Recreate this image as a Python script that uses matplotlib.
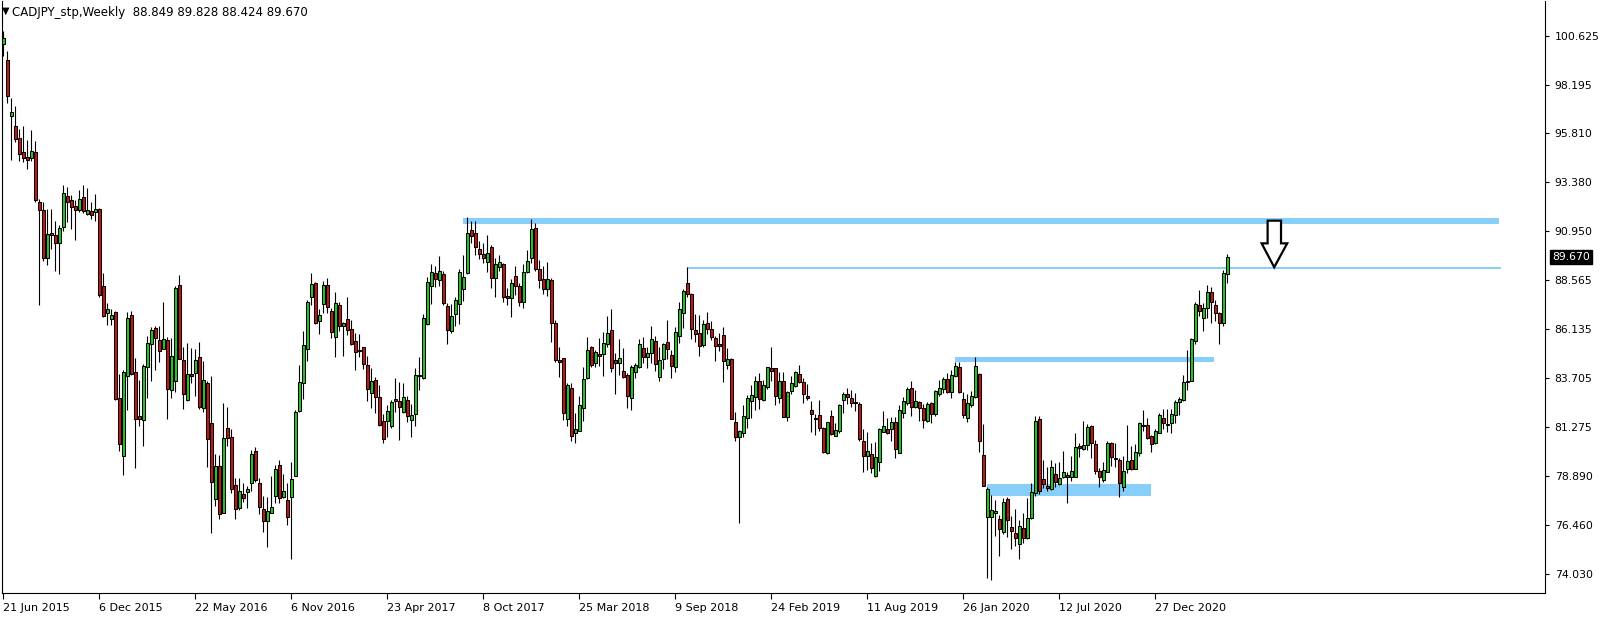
import matplotlib
matplotlib.use("Agg")
import matplotlib.pyplot as plt
from matplotlib.patches import Polygon, Rectangle
import numpy as np

# CADJPY weekly, 21 Jun 2015 .. early May 2021 (307 bars)
opens = [100.23, 99.40, 96.66, 96.15, 95.55, 94.87, 94.62, 94.58, 94.87, 92.42,
         92.03, 89.62, 90.88, 90.76, 90.37, 91.18, 92.68, 92.49, 92.20, 92.03,
         92.63, 91.83, 91.95, 91.90, 92.08, 88.24, 86.93, 86.64, 86.98, 82.71,
         79.87, 83.83, 86.81, 84.00, 81.83, 81.62, 84.24, 85.40, 86.16, 85.57,
         85.12, 85.59, 83.12, 83.56, 88.30, 84.60, 82.62, 83.89, 83.94, 84.73,
         82.21, 83.48, 81.47, 77.71, 79.36, 77.06, 81.22, 80.78, 78.42, 77.30,
         77.98, 78.06, 78.51, 80.10, 78.51, 77.22, 76.65, 77.02, 77.90, 79.41,
         77.85, 77.68, 77.81, 78.88, 82.10, 83.45, 85.12, 87.73, 88.38, 86.54,
         87.35, 88.30, 87.02, 85.72, 87.31, 86.29, 86.62, 86.11, 85.54, 85.09,
         85.22, 84.35, 82.98, 83.61, 82.77, 81.58, 81.60, 81.35, 82.66, 82.57,
         82.05, 82.62, 81.63, 81.91, 83.87, 83.73, 86.36, 88.27, 88.91, 88.55,
         88.83, 87.26, 86.05, 86.85, 87.35, 88.09, 88.88, 91.02, 90.85, 90.06,
         89.83, 89.45, 90.16, 88.66, 89.21, 89.32, 87.76, 87.68, 88.75, 88.25,
         87.48, 88.93, 89.62, 91.10, 89.08, 88.58, 88.10, 88.55, 86.41, 84.60,
         84.68, 81.68, 83.20, 80.98, 81.11, 82.24, 83.69, 85.22, 84.43, 84.89,
         84.88, 85.37, 86.08, 84.60, 84.43, 84.05, 83.86, 82.70, 83.99, 84.27,
         85.17, 84.73, 84.93, 85.54, 83.77, 84.63, 85.47, 84.84, 84.27, 85.80,
         86.90, 88.38, 87.86, 86.08, 85.91, 85.34, 86.41, 86.13, 85.67, 85.37,
         85.83, 84.35, 84.63, 81.52, 80.81, 81.01, 81.75, 82.59, 82.79, 83.58,
         82.62, 83.28, 84.19, 84.19, 82.70, 83.56, 81.80, 83.08, 83.33, 83.89,
         83.50, 82.82, 82.13, 81.75, 81.88, 81.22, 80.02, 81.85, 80.86, 81.11,
         82.62, 82.92, 82.70, 82.54, 82.43, 80.60, 79.87, 79.94, 78.89, 79.54,
         81.03, 81.19, 81.17, 81.52, 79.99, 82.00, 82.46, 83.20, 82.29, 82.54,
         82.21, 81.60, 82.46, 81.91, 82.90, 83.15, 83.64, 83.00, 83.82, 84.24,
         82.66, 81.72, 82.38, 82.75, 83.89, 79.91, 76.86, 76.86, 77.03, 76.75,
         76.09, 77.72, 76.37, 76.04, 75.49, 76.28, 75.79, 76.81, 78.05, 81.67,
         78.72, 78.38, 78.21, 78.97, 78.47, 78.80, 78.92, 78.84, 78.80, 80.35,
         80.19, 80.40, 81.34, 80.43, 79.12, 78.67, 79.08, 80.52, 79.78, 79.66,
         78.34, 79.20, 79.66, 79.23, 79.99, 81.39, 81.39, 80.85, 80.48, 80.98,
         81.72, 81.44, 81.50, 81.88, 82.51, 82.62, 83.56, 83.58, 85.55, 87.32,
         86.66, 87.18, 87.96, 87.32, 86.90, 86.41, 88.849]
highs = [100.85, 99.86, 97.56, 97.14, 96.03, 96.15, 95.47, 95.98, 95.43, 92.54,
         92.41, 92.07, 92.07, 91.44, 91.27, 93.26, 93.14, 92.75, 92.49, 93.00,
         93.22, 93.09, 92.41, 92.80, 92.12, 88.89, 87.39, 87.13, 87.01, 83.90,
         84.12, 86.96, 87.01, 84.72, 83.61, 84.38, 85.77, 86.25, 86.28, 86.28,
         87.48, 85.72, 85.67, 88.25, 88.80, 85.22, 85.42, 85.17, 85.12, 85.47,
         84.55, 83.56, 83.81, 79.95, 79.90, 82.46, 82.26, 81.19, 78.75, 78.75,
         78.51, 78.37, 80.15, 80.32, 78.75, 77.88, 77.85, 78.87, 79.41, 79.66,
         78.97, 78.54, 79.58, 82.13, 84.35, 86.05, 87.56, 88.88, 88.47, 87.12,
         88.50, 88.63, 87.15, 87.94, 87.48, 86.49, 87.69, 86.57, 85.91, 85.87,
         85.26, 84.80, 84.19, 83.74, 83.36, 81.93, 82.38, 82.62, 83.69, 83.49,
         83.45, 82.82, 82.42, 84.19, 84.76, 86.87, 88.68, 89.32, 89.24, 89.73,
         88.99, 87.40, 87.36, 87.73, 89.09, 89.78, 91.64, 91.46, 91.46, 90.48,
         90.36, 90.77, 90.28, 89.62, 89.78, 89.41, 88.14, 88.60, 89.24, 88.38,
         89.32, 90.03, 91.56, 91.35, 89.54, 89.24, 89.45, 88.63, 86.57, 85.26,
         84.71, 83.48, 83.48, 81.96, 82.82, 84.27, 85.75, 85.29, 85.09, 85.67,
         86.00, 86.77, 87.10, 84.93, 85.62, 85.17, 83.97, 84.35, 84.47, 85.63,
         85.72, 85.22, 86.28, 85.80, 85.26, 85.42, 86.57, 85.09, 86.21, 87.48,
         88.09, 89.21, 87.89, 86.85, 86.82, 86.57, 86.95, 86.54, 85.78, 85.91,
         86.21, 85.21, 84.68, 82.01, 81.14, 82.37, 82.87, 83.36, 83.81, 83.94,
         83.61, 84.27, 85.26, 84.19, 84.02, 84.02, 83.07, 83.82, 84.06, 84.35,
         83.73, 83.40, 82.57, 81.93, 82.62, 81.31, 81.55, 82.13, 81.47, 82.41,
         83.00, 83.23, 83.12, 82.95, 82.54, 81.17, 81.03, 80.48, 80.56, 81.22,
         82.08, 81.75, 81.77, 81.80, 82.38, 82.79, 83.28, 83.56, 83.12, 82.59,
         82.43, 82.54, 82.54, 83.12, 83.61, 83.78, 83.94, 84.10, 84.52, 84.48,
         83.03, 82.90, 83.08, 84.76, 83.94, 81.42, 78.34, 77.93, 77.68, 76.94,
         77.77, 77.85, 76.91, 77.24, 76.70, 77.06, 77.80, 78.51, 81.85, 81.85,
         79.66, 79.33, 79.66, 79.51, 79.58, 80.11, 79.08, 79.86, 80.98, 80.48,
         81.59, 81.44, 81.39, 80.65, 79.28, 79.55, 80.61, 80.57, 80.52, 79.74,
         79.86, 81.39, 80.35, 80.45, 81.55, 82.13, 81.75, 80.90, 81.17, 81.97,
         82.16, 82.16, 82.16, 82.62, 82.76, 83.86, 85.09, 85.70, 87.48, 88.06,
         87.40, 88.30, 88.22, 87.56, 86.95, 89.04, 89.828]
lows = [99.60, 97.31, 94.50, 95.35, 94.45, 94.38, 94.04, 94.45, 92.41, 87.30,
        89.48, 89.31, 90.08, 88.97, 88.83, 90.98, 91.40, 91.06, 90.54, 91.90,
        91.86, 91.78, 91.56, 91.47, 87.70, 86.73, 86.33, 86.33, 82.64, 80.12,
        78.90, 82.13, 83.87, 79.24, 81.32, 80.33, 82.73, 83.58, 84.12, 84.51,
        85.12, 81.67, 82.70, 83.03, 84.63, 82.19, 82.59, 83.45, 82.84, 82.16,
        82.05, 79.30, 76.07, 77.39, 76.73, 77.02, 80.37, 78.05, 76.73, 77.19,
        77.57, 77.30, 78.14, 78.56, 76.97, 76.12, 75.35, 77.02, 77.52, 77.52,
        77.76, 76.45, 74.75, 78.88, 82.01, 82.67, 84.56, 87.31, 86.38, 85.88,
        86.94, 86.90, 85.67, 84.76, 86.05, 84.81, 85.83, 85.34, 84.10, 84.76,
        84.14, 82.59, 82.21, 81.96, 81.34, 80.51, 80.81, 81.22, 82.05, 80.65,
        81.96, 81.55, 80.81, 81.35, 83.12, 83.66, 86.33, 87.36, 88.22, 88.27,
        87.31, 85.39, 85.95, 86.28, 86.38, 87.53, 88.85, 90.39, 89.78, 89.57,
        89.37, 88.96, 88.14, 87.73, 88.99, 87.48, 87.31, 86.74, 87.81, 87.26,
        87.18, 88.88, 89.37, 88.99, 88.17, 87.86, 87.78, 85.50, 84.48, 83.77,
        81.63, 81.34, 80.61, 80.51, 81.09, 81.60, 83.64, 84.27, 84.24, 84.32,
        83.81, 85.26, 84.02, 82.92, 83.86, 83.69, 82.24, 82.13, 83.72, 84.19,
        84.47, 84.22, 84.43, 84.07, 83.56, 84.15, 84.65, 83.72, 84.02, 85.45,
        86.16, 87.69, 85.63, 85.50, 84.80, 85.26, 85.88, 85.59, 84.55, 85.06,
        83.49, 84.15, 81.68, 80.61, 76.56, 80.81, 81.26, 81.72, 82.13, 82.16,
        82.57, 83.17, 83.58, 82.38, 82.49, 81.80, 81.60, 82.90, 83.28, 83.45,
        82.49, 82.62, 81.06, 80.89, 81.09, 80.02, 79.96, 80.89, 80.85, 80.98,
        82.00, 82.43, 82.29, 82.08, 80.61, 79.05, 79.17, 79.03, 78.84, 79.12,
        81.03, 80.94, 80.61, 79.77, 79.99, 81.72, 82.38, 81.85, 82.21, 81.60,
        81.26, 81.55, 81.47, 81.85, 82.84, 82.95, 82.95, 82.74, 83.78, 82.95,
        81.75, 81.55, 82.26, 82.70, 80.07, 78.39, 73.81, 73.73, 75.92, 74.93,
        75.99, 75.87, 75.26, 75.43, 74.75, 75.54, 75.76, 76.73, 77.90, 77.98,
        78.26, 78.15, 78.18, 78.34, 78.42, 78.75, 77.55, 78.64, 78.80, 79.83,
        80.15, 80.15, 79.78, 78.97, 78.34, 78.56, 79.08, 79.38, 79.33, 77.85,
        78.15, 79.00, 79.17, 79.23, 79.86, 81.11, 80.68, 80.07, 80.43, 80.98,
        81.19, 81.06, 80.98, 81.50, 81.88, 82.57, 83.12, 83.58, 85.39, 86.79,
        86.03, 86.66, 86.44, 86.53, 85.39, 86.28, 88.424]
closes = [100.51, 97.65, 96.85, 95.52, 94.75, 94.58, 94.50, 94.93, 92.51, 92.03,
          89.65, 90.84, 90.76, 90.37, 91.10, 92.83, 92.42, 92.17, 92.03, 92.54,
          91.95, 92.00, 91.78, 92.08, 87.81, 86.76, 87.10, 86.81, 82.68, 80.43,
          84.00, 86.67, 83.90, 81.69, 81.66, 84.29, 85.43, 86.08, 85.70, 85.06,
          85.62, 83.15, 84.80, 88.14, 84.63, 82.90, 83.89, 83.82, 84.60, 82.26,
          83.61, 80.68, 78.56, 79.36, 76.97, 80.73, 80.73, 78.21, 77.22, 78.13,
          77.80, 78.24, 79.95, 78.67, 77.32, 76.65, 77.14, 77.32, 79.21, 77.76,
          78.13, 76.86, 78.72, 82.01, 83.49, 85.34, 87.48, 88.33, 86.41, 86.82,
          88.30, 87.20, 86.00, 87.40, 86.29, 86.41, 86.08, 85.37, 84.98, 85.06,
          84.38, 83.15, 83.56, 82.79, 81.39, 80.68, 82.08, 82.52, 82.59, 82.29,
          82.75, 81.85, 81.88, 83.86, 83.82, 86.66, 88.43, 88.93, 88.60, 88.99,
          87.43, 86.08, 86.77, 87.56, 88.96, 88.68, 90.85, 90.74, 90.16, 89.82,
          89.65, 89.87, 88.66, 89.32, 89.42, 87.73, 87.68, 88.38, 88.27, 87.45,
          88.93, 89.50, 91.05, 89.08, 88.55, 88.10, 88.58, 86.44, 84.60, 84.52,
          82.00, 83.36, 80.86, 81.17, 82.38, 83.64, 85.09, 84.35, 84.98, 84.81,
          85.42, 85.91, 84.22, 84.47, 84.68, 83.77, 82.84, 84.24, 84.35, 85.37,
          84.76, 84.93, 85.62, 84.38, 84.60, 85.37, 85.12, 84.32, 85.96, 87.10,
          88.02, 87.84, 86.13, 85.86, 85.31, 86.38, 86.13, 85.75, 85.31, 85.31,
          84.56, 84.63, 81.68, 80.81, 81.09, 81.83, 82.70, 82.87, 83.56, 82.65,
          83.36, 84.24, 84.07, 82.82, 83.56, 81.80, 83.03, 83.45, 83.99, 83.53,
          82.90, 82.74, 81.91, 81.67, 81.26, 80.07, 81.52, 80.93, 81.14, 82.38,
          82.92, 82.79, 82.46, 82.46, 80.68, 79.86, 80.10, 79.28, 79.82, 81.19,
          81.34, 81.01, 81.52, 80.19, 82.13, 82.57, 83.17, 82.26, 82.57, 82.21,
          81.64, 82.43, 81.91, 83.07, 83.20, 83.64, 83.03, 83.86, 84.30, 83.03,
          81.88, 82.46, 82.82, 84.30, 80.61, 78.39, 78.21, 77.19, 77.14, 76.25,
          77.57, 76.70, 76.17, 75.82, 76.42, 75.82, 76.78, 78.10, 81.59, 78.15,
          78.47, 78.26, 79.30, 78.59, 78.75, 79.05, 78.84, 79.12, 80.29, 80.24,
          80.40, 81.27, 80.48, 79.13, 78.80, 79.17, 80.52, 79.83, 79.73, 78.51,
          79.12, 79.61, 79.22, 80.06, 81.50, 81.34, 80.76, 80.43, 81.09, 81.88,
          81.50, 81.39, 81.93, 82.51, 82.67, 83.50, 83.50, 85.64, 87.37, 87.04,
          87.15, 87.96, 87.48, 86.94, 86.41, 88.91, 89.670]

date_labels = ["21 Jun 2015", "6 Dec 2015", "22 May 2016", "6 Nov 2016", "23 Apr 2017",
               "8 Oct 2017", "25 Mar 2018", "9 Sep 2018", "24 Feb 2019", "11 Aug 2019",
               "26 Jan 2020", "12 Jul 2020", "27 Dec 2020"]
price_ticks = [100.625, 98.195, 95.810, 93.380, 90.950, 88.565, 86.135,
               83.705, 81.275, 78.890, 76.460, 74.030]
last_price = 89.670
title = "CADJPY_stp,Weekly  88.849 89.828 88.424 89.670"
# drawn zones: (first bar, last bar, low price, high price)
zones = [(115, 374, 91.31, 91.61), (171, 374.5, 89.08, 89.18),
         (238, 302.75, 84.50, 84.76), (246, 287, 77.90, 78.48)]

GREEN = "#21c821"; RED = "#c81414"; ZONE = "#87cefa"
W, H = 1604, 617
fig = plt.figure(figsize=(W / 100, H / 100), dpi=100)
ax = fig.add_axes([2 / W, 24 / H, 1543 / W, 592 / H])

o = np.array(opens); c = np.array(closes); hi = np.array(highs); lo = np.array(lows)
x = np.arange(len(o))
cols = [GREEN if cc >= oo else RED for oo, cc in zip(o, c)]

for x0, x1, p0, p1 in zones:
    ax.add_patch(Rectangle((x0, p0), x1 - x0, p1 - p0, fc=ZONE, ec="none", zorder=1))
ax.vlines(x, lo, hi, color="black", lw=0.8, zorder=2)
ax.bar(x, np.abs(c - o), bottom=np.minimum(o, c), width=0.65, color=cols,
       edgecolor="black", linewidth=0.75, zorder=3)

# hollow down arrow
arrow = [(316.05, 91.48), (319.4, 91.48), (319.4, 90.36), (320.95, 90.36),
         (317.7, 89.18), (314.55, 90.36), (316.05, 90.36)]
ax.add_patch(Polygon(arrow, closed=True, fc="white", ec="black", lw=1.6, zorder=5))

ax.set_xlim(-0.375, 385.4)
ax.set_ylim(73.09, 102.33)
ax.yaxis.tick_right()
ax.set_yticks(price_ticks)
ax.set_yticklabels([f"{v:.3f}" for v in price_ticks])
ax.set_xticks(np.arange(len(date_labels)) * 24)
ax.set_xticklabels(date_labels)
for t in ax.get_xticklabels():
    t.set_ha("left")
ax.tick_params(axis="y", direction="out", length=3, width=0.8, pad=4, labelsize=7.8)
ax.tick_params(axis="x", direction="out", length=4, width=0.8, pad=3, labelsize=8)
for s in ax.spines.values():
    s.set_linewidth(0.8)
ax.spines["top"].set_visible(False)

ax.annotate(f"{last_price:.3f}", xy=(1.0, last_price), xycoords=("axes fraction", "data"),
            xytext=(5, 0), textcoords="offset points", ha="left", va="center",
            color="white", fontsize=7.8, zorder=6, annotation_clip=False,
            bbox=dict(boxstyle="square,pad=0.2", fc="black", ec="black"))

fig.text(6 / W, 1 - 11 / H, "\u25bc", fontsize=7, ha="center", va="center")
fig.text(12 / W, 1 - 12.5 / H, title, fontsize=8.5, ha="left", va="center")

fig.savefig("out.png", dpi=100, facecolor="white")
